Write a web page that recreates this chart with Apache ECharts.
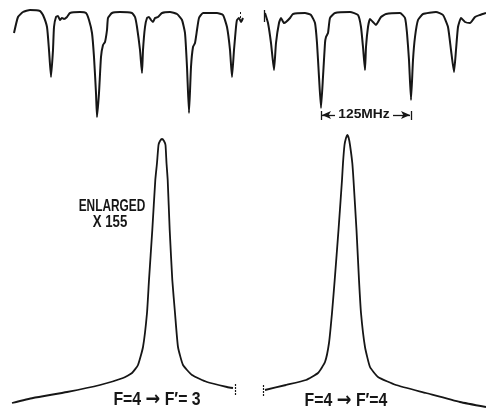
<!DOCTYPE html>
<html>
<head>
<meta charset="utf-8">
<script src="https://cdn.jsdelivr.net/npm/echarts@6/dist/echarts.min.js"></script>
<style>html,body{margin:0;padding:0;background:#fff}#c{width:486px;height:408px}</style>
</head>
<body>
<div id="c"></div>
<script>
// Sweep position (arb. channel) vs. signal (arb. units)
// Top: saturated-absorption scan, left sweep
const scanLeft = [
  [14,97],[18,113],[23,118],[30,120],[40,119],[43,115],[47,103],[49,80],[51,53],[53,80],[54,103],
  [56,113],[58,114],[60,110],[62,112],[64,111],[67,113],[70,117],[80,118],[86,117],[89,110],[92,97],
  [94,73],[96,37],[97,13],[99,37],[101,73],[103,85],[105,88],[107,100],[108,112],[112,117],[120,118],
  [132,117],[135,113],[137,103],[140,80],[142,57],[143,80],[145,103],[147,112],[149,113],[151,110],
  [153,108],[155,112],[158,113],[162,117],[170,118],[177,116],[182,110],[185,97],[187,63],[189,17],
  [191,63],[193,83],[195,87],[197,100],[199,112],[203,117],[217,117],[223,115],[227,103],[230,80],
  [232,53],[234,80],[236,103],[237,110],[239,112],[241,108],[243,112]
];
// Top: right sweep
const scanRight = [
  [265,117],[268,107],[271,87],[274,60],[276,87],[279,107],[281,112],[284,107],[286,108],[290,112],
  [293,116],[305,117],[311,115],[315,107],[317,87],[319,53],[321,22],[323,53],[325,87],[326,93],
  [328,97],[330,112],[335,117],[350,118],[358,115],[361,103],[363,83],[365,60],[366,83],[368,103],
  [370,111],[373,108],[376,105],[378,108],[381,113],[386,116],[400,117],[405,112],[407,97],[409,70],
  [411,30],[413,70],[415,93],[418,110],[423,116],[436,118],[443,115],[448,103],[451,80],[454,58],
  [456,80],[458,103],[461,112],[465,108],[470,107],[475,113],[480,115],[486,117]
];
// Bottom: enlarged line F=4 -> F'=3
const peak43 = [
  [12,5],[33,10],[67,16],[100,23],[123,30],[132,35],[138,43],[143,61],[147,95],[149,128],[152.3,178],
  [155.3,228],[157,245],[158.5,263],[160,267],[162,269],[164,267],[165.5,263],[166.5,245],[167.7,228],
  [169.7,178],[172.3,128],[175,95],[178,61],[183,43],[192,33],[207,26],[227,21],[233,20]
];
// Bottom: enlarged line F=4 -> F'=4
const peak44 = [
  [265,18],[286,23],[306,28],[318,35],[325,46],[329,65],[332,95],[334.7,128],[338.5,178],[342,228],
  [343,245],[344.5,263],[346,270],[347.3,273],[348.7,270],[350,263],[352.3,245],[353.5,228],[356.5,178],
  [359,128],[361,95],[365,61],[370,41],[378,31],[396,23],[426,15],[460,6],[486,1]
];
// 125 MHz marker between the two strong dips of the right sweep
const markerFrom = 321, markerTo = 411, markerLevel = 15;

const ink = '#161616';
const fam = '"Liberation Sans", Arial, sans-serif';
const chart = echarts.init(document.getElementById('c'), null, {renderer: 'canvas'});
const lineBase = {
  type: 'line', symbol: 'none', smooth: 0.15, animation: false, clip: false,
  lineStyle: {color: ink, width: 2}, silent: true
};
const tick = (x, y0, y1) => [{coord: [x, y0]}, {coord: [x, y1]}];
const label = (text, x, y, size, sx) => ({
  type: 'text', x: x, y: y, scaleX: sx, silent: true,
  style: {text: text, font: 'bold ' + size + 'px ' + fam, fill: ink, align: 'center', verticalAlign: 'middle'}
});
const transition = (upper, x, y) => ({
  type: 'text', x: x, y: y, scaleX: 0.88, silent: true,
  style: {
    text: '{a|F=4\u00a0}{b|\u2192}{a|\u00a0' + upper + '}',
    align: 'center', verticalAlign: 'middle', fill: ink,
    rich: {
      a: {font: 'bold 18px ' + fam, fill: ink},
      b: {font: 'bold 20px "DejaVu Sans", sans-serif', fill: ink}
    }
  }
});
chart.setOption({
  backgroundColor: '#fff',
  grid: [
    {left: 0, top: 0, width: 486, height: 130},
    {left: 0, top: 130, width: 486, height: 278}
  ],
  xAxis: [
    {type: 'value', gridIndex: 0, min: 0, max: 486, show: false},
    {type: 'value', gridIndex: 1, min: 0, max: 486, show: false}
  ],
  yAxis: [
    {type: 'value', gridIndex: 0, min: 0, max: 130, show: false},
    {type: 'value', gridIndex: 1, min: 0, max: 278, show: false}
  ],
  series: [
    Object.assign({}, lineBase, {data: scanLeft, xAxisIndex: 0, yAxisIndex: 0,
      markLine: {silent: true, symbol: 'none', animation: false,
        lineStyle: {color: ink, width: 1, type: [2, 2]}, label: {show: false},
        data: [tick(240, 108, 120)]}}),
    Object.assign({}, lineBase, {data: scanRight, xAxisIndex: 0, yAxisIndex: 0,
      markLine: {silent: true, animation: false, label: {show: false},
        lineStyle: {color: ink, width: 1.3, type: 'solid'},
        data: [
          [{coord: [264, 108], symbol: 'none'}, {coord: [264, 120], symbol: 'none'}],
          [{coord: [markerFrom, markerLevel - 5], symbol: 'none'}, {coord: [markerFrom, markerLevel + 4], symbol: 'none'}],
          [{coord: [markerTo, markerLevel - 5], symbol: 'none'}, {coord: [markerTo, markerLevel + 4], symbol: 'none'}],
          [{coord: [markerFrom + 14, markerLevel], symbol: 'none'}, {coord: [markerFrom + 1, markerLevel], symbol: 'arrow', symbolSize: [6, 9]}],
          [{coord: [markerTo - 18, markerLevel], symbol: 'none'}, {coord: [markerTo - 1, markerLevel], symbol: 'arrow', symbolSize: [6, 9]}]
        ]}}),
    Object.assign({}, lineBase, {data: peak43, xAxisIndex: 1, yAxisIndex: 1,
      lineStyle: {color: ink, width: 1.8},
      markLine: {silent: true, symbol: 'none', animation: false,
        lineStyle: {color: ink, width: 1.2, type: [2, 1]}, label: {show: false},
        data: [tick(235, 13, 24)]}}),
    Object.assign({}, lineBase, {data: peak44, xAxisIndex: 1, yAxisIndex: 1,
      lineStyle: {color: ink, width: 1.8},
      markLine: {silent: true, symbol: 'none', animation: false,
        lineStyle: {color: ink, width: 1.2, type: [2, 1]}, label: {show: false},
        data: [tick(263, 12, 24)]}})
  ],
  graphic: [
    label('125MHz', 364, 115, 12, 1.15),
    label('ENLARGED', 112, 206, 16.5, 0.72),
    label('X 155', 110, 222, 16.5, 0.8),
    transition('F\u2032= 3', 157, 400),
    transition('F\u2032=4', 346, 401)
  ]
});
</script>
</body>
</html>
